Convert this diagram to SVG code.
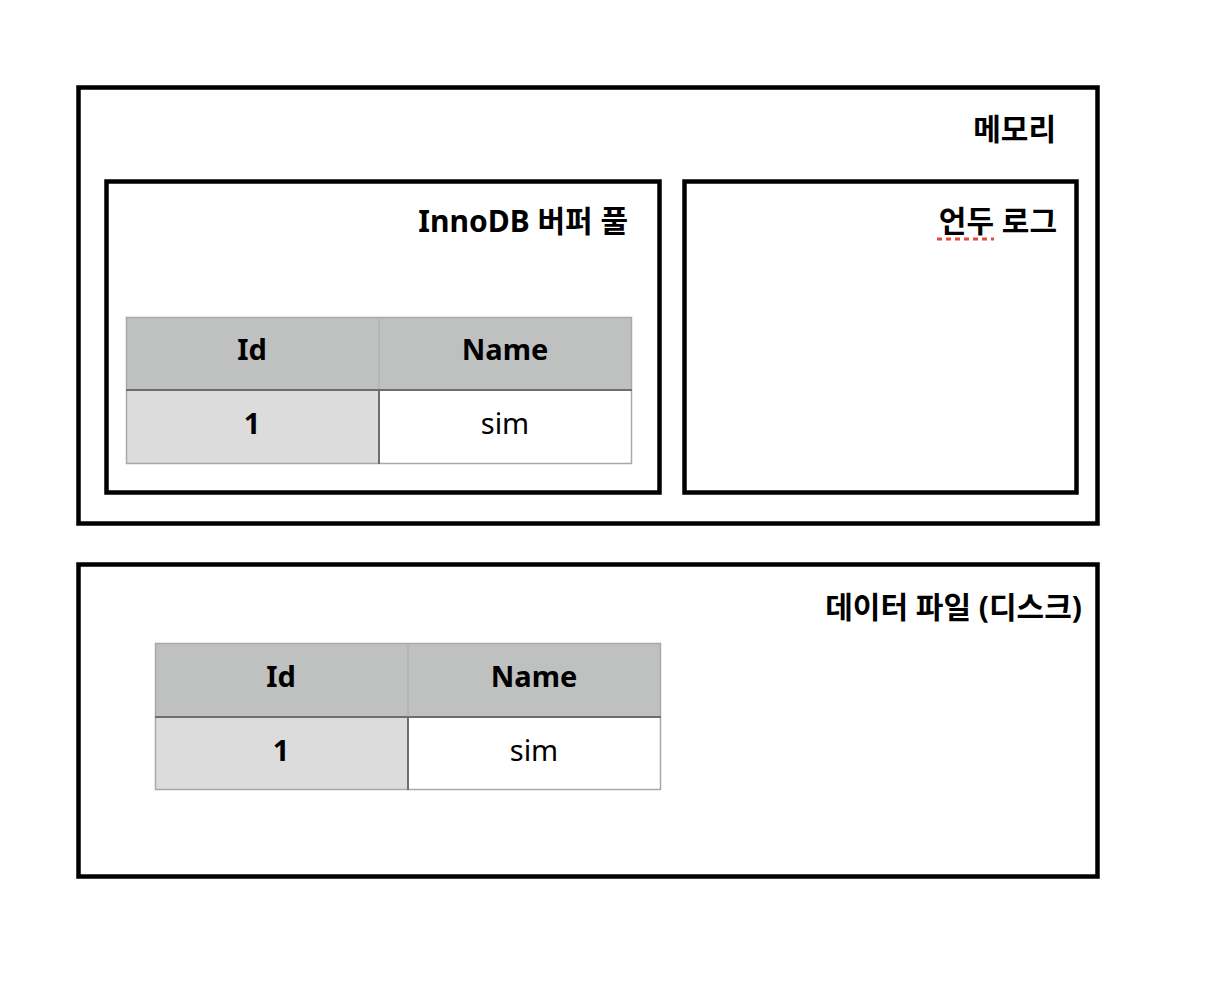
<svg xmlns="http://www.w3.org/2000/svg" width="1222" height="1008" viewBox="0 0 1222 1008">
<style>
.box{fill:none;stroke:#000;stroke-width:4.5}
.title{font-family:"Noto Sans","Noto Sans CJK KR",sans-serif;font-weight:700;font-size:30px;fill:#000;text-anchor:end}
.th{fill:#bfc1c0}
.c1{fill:#dcdcdc}
.c2{fill:#fff}
.tb{fill:none;stroke:#a8a8a8;stroke-width:1.5}
.div{stroke:#6e6e6e;stroke-width:2}
.vdiv{stroke:#b0b0b0;stroke-width:1.5}
.tt{font-family:"Noto Sans","Noto Sans CJK KR",sans-serif;font-size:29px;fill:#000;text-anchor:middle}
.b{font-weight:700}
</style>
<rect width="1222" height="1008" fill="#fff"/>
<g id="memory">
<rect class="box" x="78.5" y="87.5" width="1019" height="436"/>
<text class="title" x="1056" y="140">메모리</text>
</g>
<g id="bufferpool">
<rect class="box" x="106.5" y="181.5" width="553" height="311"/>
<text class="title" x="628" y="232">InnoDB 버퍼 풀</text>
<g id="table1">
<rect class="th" x="126" y="317" width="506" height="73"/>
<rect class="c1" x="126" y="390" width="253" height="74"/>
<rect class="c2" x="379" y="390" width="253" height="74"/>
<rect class="tb" x="126.5" y="317.5" width="505" height="146"/>
<line class="vdiv" x1="379" y1="317" x2="379" y2="390"/>
<line class="div" x1="126" y1="390" x2="632" y2="390"/>
<line class="div" x1="379" y1="390" x2="379" y2="464"/>
<text class="tt b" x="252" y="360">Id</text>
<text class="tt b" x="505" y="360">Name</text>
<text class="tt b" x="252" y="434">1</text>
<text class="tt" x="505" y="434">sim</text>
</g>
</g>
<g id="undolog">
<rect class="box" x="684.5" y="181.5" width="392" height="311"/>
<text class="title" x="1057" y="232">언두 로그</text>
<line x1="937" y1="239" x2="994" y2="239" stroke="#e8493d" stroke-width="3" stroke-dasharray="5,4"/>
</g>
<g id="datafile">
<rect class="box" x="78.5" y="564.5" width="1019" height="312"/>
<text class="title" x="1082" y="618">데이터 파일 (디스크)</text>
<g id="table2">
<rect class="th" x="155" y="643" width="506" height="74"/>
<rect class="c1" x="155" y="717" width="253" height="73"/>
<rect class="c2" x="408" y="717" width="253" height="73"/>
<rect class="tb" x="155.5" y="643.5" width="505" height="146"/>
<line class="vdiv" x1="408" y1="643" x2="408" y2="717"/>
<line class="div" x1="155" y1="717" x2="661" y2="717"/>
<line class="div" x1="408" y1="717" x2="408" y2="790"/>
<text class="tt b" x="281" y="687">Id</text>
<text class="tt b" x="534" y="687">Name</text>
<text class="tt b" x="281" y="761">1</text>
<text class="tt" x="534" y="761">sim</text>
</g>
</g>
<g id="connectors"></g>
</svg>
